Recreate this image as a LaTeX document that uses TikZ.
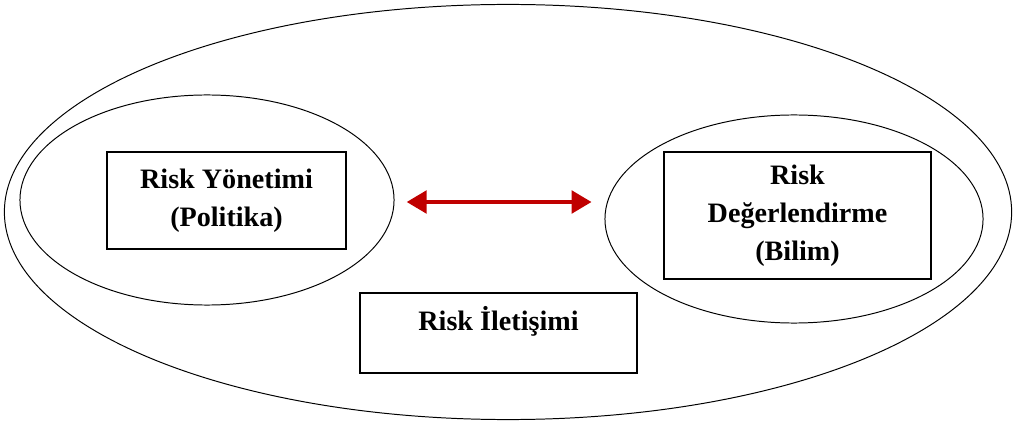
\documentclass[tikz,border=0pt]{standalone}
\usepackage{fontspec}
\setmainfont{Liberation Serif}
\usepackage{xcolor}
\usetikzlibrary{positioning, arrows.meta, shapes.geometric}

\definecolor{arrowred}{RGB}{192,0,0}

\begin{document}
\begin{tikzpicture}[
    x=0.025cm, y=-0.025cm,
    ring/.style={ellipse, draw, line width=0.7pt, inner sep=0pt},
    textbox/.style={rectangle, draw, line width=1pt, align=center, inner sep=0pt,
        font=\fontsize{20}{27}\selectfont\bfseries},
    linkarrow/.style={{Triangle[width=0.55cm, length=0.5cm]}-{Triangle[width=0.55cm, length=0.5cm]},
        line width=3.5pt, arrowred},
]
\useasboundingbox (0,0) rectangle (1016,425);

% outer ring and the two inner rings
\node[ring, minimum width=25.175cm, minimum height=10.375cm] (outer) at (508,212) {};
\node[ring, minimum width=9.35cm, minimum height=5.25cm] (mgmtring) at (207,200) {};
\node[ring, minimum width=9.45cm, minimum height=5.2cm] (assessring) at (794,219) {};

% boxes
\node[textbox, minimum width=5.975cm, minimum height=2.425cm] (mgmt) at (226.5,200.5) {Risk Yönetimi\\(Politika)};
\node[textbox, minimum width=6.675cm, minimum height=3.175cm] (assess) at (797.5,215.5) {Risk\\Değerlendirme\\(Bilim)};
\node[textbox, minimum width=6.925cm, minimum height=2cm, text depth=0.75cm] (comm) at (498.5,333) {Risk İletişimi};

% two-way link
\draw[linkarrow, shorten <=0.3cm, shorten >=0.32cm] ([yshift=-0.05cm]mgmtring.east) -- ([yshift=-0.05cm]assessring.west |- mgmtring.east);

\end{tikzpicture}
\end{document}
